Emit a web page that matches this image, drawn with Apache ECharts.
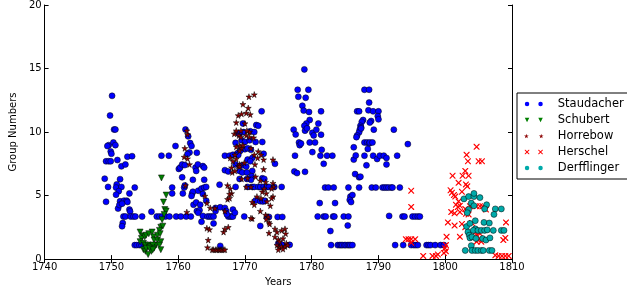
<!DOCTYPE html>
<html><head><meta charset="utf-8">
<script src="https://cdn.jsdelivr.net/npm/echarts@6/dist/echarts.min.js"></script>
<style>html,body{margin:0;padding:0;background:#fff}#c{width:627px;height:292px}</style>
</head><body><div id="c"></div>
<script>
const xTicks = [1740, 1810, 10];
const yTicks = [0, 20, 5];
const seriesNames = ['Staudacher', 'Schubert', 'Horrebow', 'Herschel', 'Derfflinger'];

const staudacher = [
[1750.1,12.85],[1749.8,11.3],[1750.4,10.2],[1750.6,10.2],
[1749.6,8.97],[1749.4,8.9],[1750.3,9.18],[1750.6,8.97],[1749.9,8.47],[1750.0,8.29],[1749.2,7.7],[1749.6,7.7],[1749.9,7.7],[1750.9,7.8],[1751.5,7.3],[1752.1,7.45],[1752.4,8.06],[1753.1,8.1],
[1749.0,6.33],[1751.3,6.29],[1749.5,5.68],[1750.8,5.88],[1750.7,5.63],[1751.5,5.68],[1751.1,5.35],[1750.7,5.07],[1752.7,5.17],[1753.5,5.63],[1749.2,4.51],[1751.3,4.55],[1751.9,4.6],[1752.3,4.6],[1752.4,4.5],[1751.0,3.98],[1751.2,4.26],[1751.6,4.36],[1752.7,3.9],[1752.8,3.75],
[1751.8,3.35],[1752.1,3.35],[1752.9,3.35],[1753.3,3.35],[1753.6,3.35],[1754.6,3.35],[1756.8,3.35],[1757.2,3.35],[1757.6,3.35],[1758.1,3.35],[1758.7,3.35],[1759.7,3.35],[1760.4,3.35],[1761.2,3.35],[1761.9,3.35],
[1756.0,3.73],[1751.7,2.84],[1751.6,2.59],
[1753.5,1.1],[1753.8,1.1],[1754.2,1.1],[1754.5,1.1],[1755.0,1.1],[1755.4,1.1],[1755.9,1.1],[1756.3,1.1],
[1757.5,8.14],[1758.6,8.14],[1759.1,5.63],[1759.1,5.17],[1759.6,8.9],[1760.1,7.1],[1760.3,7.2],[1760.6,7.45],[1760.6,6.44],[1760.7,5.17],[1760.9,5.63],[1761.1,10.2],[1761.5,9.66],[1761.8,9.13],[1762.0,8.9],[1761.7,8.39],[1761.4,8.27],[1762.8,8.37],[1762.6,7.2],[1762.7,6.94],[1762.95,7.45],[1762.2,6.24],[1762.1,5.17],[1762.2,5.3],[1762.0,4.97],[1763.0,5.38],[1762.3,4.28],[1762.8,3.78],
[1763.7,7.32],[1763.9,7.2],[1761.0,7.4],[1763.9,6.24],[1761.0,5.8],[1763.5,5.55],[1763.9,5.63],[1764.2,5.68],[1766.2,5.86],[1763.7,5.12],[1762.7,4.46],[1763.3,4.28],[1764.2,4.6],[1763.2,3.85],[1763.0,3.65],[1763.7,3.4],
[1764.4,3.35],[1764.7,3.35],[1765.0,3.35],[1765.3,3.35],[1767.5,3.35],[1767.8,3.35],[1768.0,3.35],[1768.2,3.35],[1769.9,3.35],
[1763.5,2.94],[1765.3,2.81],[1765.6,4.03],[1765.6,3.78],[1766.3,4.08],[1767.0,4.03],[1767.2,3.78],[1767.3,3.52],[1768.2,3.9],[1768.5,3.65],[1766.3,1.04],[1767.0,7.0],[1767.5,6.9],
[1767.0,8.14],[1767.7,8.14],[1768.2,8.21],[1768.9,8.34],
[1772.5,11.63],[1769.7,10.67],[1771.7,10.55],[1772.0,10.5],[1769.0,9.9],[1769.2,9.85],[1769.8,10.0],[1770.8,10.06],[1771.4,10.0],[1768.6,9.15],[1769.5,9.35],[1770.0,9.22],[1770.7,9.35],[1771.6,9.22],[1772.6,9.22],[1770.0,8.65],[1770.4,8.72],[1770.9,8.6],[1769.3,8.52],[1769.0,8.2],[1772.8,8.29],[1770.4,7.83],[1771.1,7.96],[1770.8,7.7],[1768.6,7.45],[1774.5,7.5],[1769.6,7.38],[1770.2,7.28],[1771.1,6.94],[1769.2,6.94],[1769.6,6.82],[1770.3,6.82],[1771.0,6.52],[1769.2,6.31],[1770.3,6.31],[1770.9,6.24],[1772.6,6.36],[1772.9,6.31],
[1768.6,5.68],[1770.4,5.68],[1771.1,5.68],[1771.4,5.68],[1772.0,5.68],[1772.3,5.68],[1772.8,5.68],[1773.3,5.68],[1773.6,5.68],[1774.4,5.68],[1775.5,5.68],
[1771.6,4.61],[1772.3,4.56],[1772.7,4.54],[1773.0,4.59],
[1773.3,3.32],[1773.6,3.32],[1774.9,3.32],[1775.6,3.32],
[1772.3,2.61],[1775.0,1.24],[1775.6,1.12],[1776.7,1.12],
[1778.9,14.93],[1777.9,13.33],[1779.5,13.33],[1778.0,12.78],[1779.1,12.7],[1778.6,12.07],[1778.8,11.69],[1779.6,11.58],[1781.4,11.63],[1779.7,10.95],[1779.2,10.67],[1778.9,10.49],[1781.0,10.67],[1777.3,10.19],[1777.6,9.81],[1779.0,10.11],[1779.3,10.29],[1780.1,9.94],[1780.3,9.73],[1780.7,10.19],[1781.4,9.79],[1778.1,9.18],[1778.2,8.97],[1778.4,9.1],[1779.7,9.18],[1780.5,9.18],[1780.1,8.42],[1781.5,8.6],[1777.5,8.14],[1781.3,8.14],[1782.3,8.14],[1783.1,8.14],[1781.8,7.5],[1777.4,6.9],[1777.8,6.77],[1779.0,6.87],
[1782.0,5.63],[1782.5,5.63],[1783.3,5.63],[1785.5,5.63],[1787.1,5.63],[1789.0,5.63],
[1781.2,4.41],[1783.5,4.41],[1785.8,4.92],[1786.1,5.04],[1785.7,4.66],[1785.9,4.49],
[1780.9,3.35],[1781.8,3.35],[1782.1,3.35],[1783.2,3.35],[1783.4,3.35],[1784.8,3.35],[1785.5,3.35],
[1785.4,2.64],[1782.8,2.21],
[1782.9,1.1],[1783.9,1.1],[1784.2,1.1],[1784.4,1.1],[1784.6,1.1],[1784.9,1.1],[1785.1,1.1],[1785.4,1.1],[1785.6,1.1],[1785.8,1.1],[1786.1,1.1],
[1787.9,13.33],[1788.6,13.33],[1788.6,12.32],[1786.8,11.63],[1787.1,11.63],[1788.5,11.71],[1789.2,11.63],[1787.7,10.95],[1787.5,10.8],[1787.3,10.49],[1787.4,10.37],[1787.2,10.19],[1787.1,9.98],[1786.8,9.73],[1786.7,9.6],[1788.9,10.87],[1788.7,10.75],[1786.3,8.8],[1787.9,9.18],[1788.3,9.18],[1788.6,9.1],[1788.4,8.67],[1786.3,7.83],[1786.6,8.16],[1787.9,8.14],[1789.2,8.14],[1788.2,7.38],[1786.5,6.69],[1787.1,6.44],
[1790.0,11.63],[1789.9,11.25],[1790.0,11.0],[1787.4,10.29],[1789.3,10.19],[1792.3,10.19],[1788.7,9.18],[1789.1,9.18],[1794.4,9.05],[1789.8,7.88],[1790.2,8.14],[1790.8,8.14],[1791.2,7.96],[1792.8,8.14],[1791.2,7.45],[1787.3,6.49],
[1789.6,5.63],[1790.6,5.63],[1790.9,5.63],[1791.2,5.63],[1791.5,5.63],[1791.9,5.63],[1792.1,5.63],[1793.2,5.63],
[1791.6,3.4],[1793.6,3.35],[1793.9,3.35],[1795.1,3.35],[1795.5,3.35],[1795.9,3.35],[1796.2,3.35],
[1792.5,1.1],[1793.7,1.1],[1794.9,1.1],[1795.3,1.1],[1795.6,1.1],[1795.9,1.1],[1797.2,1.1],[1797.5,1.1],[1797.8,1.1],[1798.5,1.1],[1799.3,1.1],[1799.8,1.1]
];

const schubert = [
[1757.5,6.39],[1758.2,5.04],[1757.8,4.49],[1758.0,3.9],[1758.2,3.78],[1757.9,3.52],[1757.6,3.09],[1757.4,2.51],[1757.7,2.59],
[1754.3,2.13],[1754.7,1.83],[1754.5,1.62],[1755.0,1.75],[1755.2,1.88],[1755.6,2.0],[1756.1,2.13],[1756.3,1.75],[1756.9,1.88],[1757.2,2.26],[1757.3,2.0],
[1756.4,1.5],[1756.9,1.5],[1757.4,1.37],[1756.7,1.1],[1757.2,1.1],
[1754.3,1.37],[1754.8,1.24],[1755.1,1.1],[1755.5,1.1],[1755.8,0.99],[1756.2,1.1],
[1754.8,0.74],[1755.1,0.61],[1755.5,0.36],[1756.0,0.61],[1756.4,0.86],[1757.4,0.74],[1755.2,0.86],[1755.7,0.86],[1756.2,0.74]
];

const horrebow = [
[1761.4,9.81],[1761.3,10.11],[1761.0,8.72],[1760.9,8.04],[1761.4,7.91],[1761.7,7.45],[1761.1,5.8],[1761.3,3.7],
[1764.0,4.97],[1764.3,4.41],[1764.3,2.43],[1764.7,2.33],[1764.5,1.5],[1764.4,0.91],
[1765.1,0.74],[1765.3,0.74],[1765.6,0.74],[1765.8,0.74],[1766.1,0.74],[1766.3,0.74],[1766.5,0.74],[1766.8,0.74],[1767.0,0.74],
[1765.5,4.0],[1764.8,4.03],[1766.8,2.13],[1767.0,2.38],[1767.5,2.51],[1767.0,3.78],[1767.4,4.71],[1767.7,4.79],
[1767.4,5.8],[1767.8,5.55],[1768.0,5.17],[1767.7,5.12],[1768.0,7.2],[1768.1,6.82],[1768.5,6.94],[1767.8,7.96],[1768.2,7.7],
[1768.4,9.86],[1768.7,10.11],[1769.1,9.73],[1770.7,10.0],[1770.9,8.72],[1769.2,8.92],[1769.5,8.72],[1769.0,7.32],[1769.2,7.45],[1771.1,3.19],
[1770.6,12.78],[1771.4,12.95],[1769.7,12.19],[1770.5,11.89],[1770.2,11.5],[1770.8,11.38],[1769.0,11.31],[1769.5,11.43],
[1768.7,10.75],[1770.0,10.67],[1770.3,10.11],[1769.4,10.11],[1769.4,9.6],[1770.2,9.73],[1770.7,9.6],[1771.3,9.56],
[1768.7,8.84],[1769.2,8.52],[1769.7,8.97],[1772.0,8.47],[1772.4,8.21],[1772.8,7.83],[1771.4,8.21],[1768.5,8.21],[1768.7,7.88],[1771.9,7.96],[1774.2,7.83],
[1769.2,7.28],[1769.9,7.58],[1771.5,7.45],[1772.8,7.07],[1770.4,6.36],[1771.6,6.49],[1769.5,6.31],[1772.3,6.18],[1773.1,6.06],
[1774.2,5.98],[1774.3,5.68],[1774.0,5.55],[1770.2,5.68],[1770.9,5.68],[1772.6,5.3],[1772.9,5.55],[1773.2,5.17],
[1771.8,4.92],[1772.4,4.79],[1774.2,4.92],[1774.0,4.79],[1771.1,4.49],[1771.4,4.28],[1773.3,4.54],[1773.8,4.2],
[1772.3,3.78],[1773.1,3.47],[1773.5,3.32],[1773.2,3.14],[1770.9,3.22],[1773.6,2.89],[1773.7,2.76],[1773.6,2.05],
[1774.5,2.38],[1774.8,2.13],[1775.5,2.26],[1776.0,2.38],[1776.1,2.0],
[1774.5,1.75],[1775.0,1.54],[1775.2,1.37],[1775.7,1.62],[1776.2,1.24],
[1774.8,1.1],[1775.1,0.94],[1775.5,0.99],[1776.0,0.99],[1775.0,0.74],[1775.7,0.79],[1776.4,1.1]
];

const herschel = [
[1794.9,5.38],[1794.9,4.11],[1794.1,1.57],[1794.5,1.57],[1794.9,1.57],[1795.5,1.57],[1794.9,1.29],
[1796.7,0.25],[1798.1,0.25],[1798.6,0.25],[1798.9,0.36],
[1804.7,8.84],[1803.2,8.21],[1803.4,7.7],[1805.0,7.7],[1805.5,7.7],[1803.0,6.94],[1802.6,6.56],[1803.5,6.56],[1801.1,6.56],[1802.0,6.0],
[1803.1,5.88],[1803.3,5.73],[1800.8,5.42],[1801.0,5.22],[1801.3,5.04],[1801.5,4.92],[1802.5,5.3],
[1802.0,4.54],[1801.6,4.28],[1801.9,4.11],[1802.2,4.2],[1803.7,4.16],[1804.7,4.16],[1805.2,4.16],[1805.6,4.16],[1803.0,3.95],
[1800.9,3.7],[1801.4,3.6],[1802.2,3.7],[1803.1,3.57],[1803.5,3.52],[1806.1,3.9],
[1800.4,2.89],[1801.4,2.64],[1802.5,2.76],[1804.0,2.84],[1809.1,2.89],[1803.0,2.51],
[1804.5,2.13],[1805.2,2.0],[1804.7,1.88],[1800.2,1.75],[1802.2,1.75],[1804.9,1.5],[1805.4,1.37],[1804.7,1.37],[1809.0,1.67],[1808.7,1.5],
[1800.1,1.1],[1799.97,0.86],[1800.1,0.61],[1799.8,0.48],
[1807.5,0.3],[1808.0,0.25],[1808.5,0.25],[1809.0,0.25],[1809.5,0.25]
];

const derfflinger = [
[1802.8,4.74],[1803.5,4.92],[1804.3,4.92],[1804.3,5.17],[1805.2,4.84],
[1803.5,3.9],[1803.3,3.65],[1803.9,4.41],[1804.3,4.2],
[1806.2,4.28],[1805.9,3.95],[1807.5,3.95],[1808.4,3.95],[1807.3,3.52],
[1803.2,2.56],[1803.7,2.81],[1804.5,3.02],[1804.5,2.38],[1805.8,2.89],[1806.6,2.84],
[1803.4,2.13],[1803.6,1.88],[1804.2,2.26],[1804.9,2.26],[1805.4,2.26],[1805.9,2.26],[1806.3,2.3],[1807.2,2.26],[1808.4,2.26],[1808.8,2.26],
[1803.7,1.67],[1804.0,1.75],[1804.6,1.62],[1805.6,1.62],[1806.1,1.5],[1806.7,1.67],
[1803.9,1.06],
[1803.0,0.68],[1804.0,0.68],[1804.5,0.68],[1804.9,0.68],[1805.4,0.68],[1805.7,0.68],[1806.6,0.68],[1807.0,0.68]
];

const STAR = 'path://M50,0 L61,35 L98,35 L68,57 L79,91 L50,70 L21,91 L32,57 L2,35 L39,35 Z';
const XMARK = 'path://M0,0 L1.4,0 L5,3.6 L8.6,0 L10,0 L10,1.4 L6.4,5 L10,8.6 L10,10 L8.6,10 L5,6.4 L1.4,10 L0,10 L0,8.6 L3.6,5 L0,1.4 Z';
const ICON = {
  circle: 'path://M0,2.5 A2.5,2.5 0 1,1 5,2.5 A2.5,2.5 0 1,1 0,2.5 Z M15,2.5 A2.5,2.5 0 1,1 20,2.5 A2.5,2.5 0 1,1 15,2.5 Z',
  tri: 'path://M0,0 L5,0 L2.5,5 Z M15,0 L20,0 L17.5,5 Z',
  star: 'path://M2.5,0 L3.05,1.75 L4.9,1.75 L3.4,2.85 L3.95,4.55 L2.5,3.5 L1.05,4.55 L1.6,2.85 L0.1,1.75 L1.95,1.75 Z M17.5,0 L18.05,1.75 L19.9,1.75 L18.4,2.85 L18.95,4.55 L17.5,3.5 L16.05,4.55 L16.6,2.85 L15.1,1.75 L16.95,1.75 Z',
  x: 'path://M0,0 L0.7,0 L2.5,1.8 L4.3,0 L5,0 L5,0.7 L3.2,2.5 L5,4.3 L5,5 L4.3,5 L2.5,3.2 L0.7,5 L0,5 L0,4.3 L1.8,2.5 L0,0.7 Z M15,0 L15.7,0 L17.5,1.8 L19.3,0 L20,0 L20,0.7 L18.2,2.5 L20,4.3 L20,5 L19.3,5 L17.5,3.2 L15.7,5 L15,5 L15,4.3 L16.8,2.5 L15,0.7 Z'
};
const legendColors = ['#0000ff', '#007f00', '#8b0000', '#ff0000', '#00aaaa'];
const legendIcons = [ICON.circle, ICON.tri, ICON.star, ICON.x, ICON.circle];

const chart = echarts.init(document.getElementById('c'), null, {renderer: 'canvas'});
const F = 'DejaVu Sans';
const axisCommon = {
  axisLine: {lineStyle: {color: '#000', width: 1}},
  axisTick: {inside: true, length: 4, lineStyle: {color: '#000'}},
  splitLine: {show: false}
};
function mk(name, data, symbol, color, size, border, extra) {
  return Object.assign({
    name, type: 'scatter', data, symbol, symbolSize: size,
    itemStyle: {color, borderColor: border ? '#000' : color, borderWidth: border ? 0.5 : 0, opacity: 1},
    emphasis: {disabled: true}, animation: false
  }, extra || {});
}
const fmt = v => String(v);
chart.setOption({
  animation: false,
  grid: {left: 28, right: 115, top: 5, bottom: 24},
  xAxis: [
    Object.assign({type: 'value', min: xTicks[0], max: xTicks[1], interval: xTicks[2], position: 'bottom',
      name: 'Years', nameLocation: 'middle', nameGap: 15, nameTextStyle: {fontFamily: F, fontSize: 10, color: '#000'},
      axisLabel: {fontFamily: F, fontSize: 10, color: '#000', margin: 3, formatter: fmt}}, axisCommon),
    Object.assign({type: 'value', min: xTicks[0], max: xTicks[1], interval: xTicks[2], position: 'top',
      axisLabel: {show: false}}, axisCommon)
  ],
  yAxis: [
    Object.assign({type: 'value', min: yTicks[0], max: yTicks[1], interval: yTicks[2], position: 'left',
      name: 'Group Numbers', nameLocation: 'middle', nameGap: 26, nameTextStyle: {fontFamily: F, fontSize: 10, color: '#000'},
      axisLabel: {fontFamily: F, fontSize: 10, color: '#000', margin: 3, formatter: fmt}}, axisCommon),
    Object.assign({type: 'value', min: yTicks[0], max: yTicks[1], interval: yTicks[2], position: 'right',
      axisLabel: {show: false}}, axisCommon)
  ],
  legend: {
    orient: 'vertical', left: 517, top: 93, padding: [5, 5, 5, 7],
    borderColor: '#000', borderWidth: 1, backgroundColor: '#fff',
    itemWidth: 20, itemHeight: 4.5, itemGap: 4,
    textStyle: {fontFamily: F, fontSize: 11.5, color: '#000', padding: [0, 0, 0, 9]},
    data: seriesNames.map((n, i) => ({
      name: n, icon: legendIcons[i],
      itemStyle: {color: legendColors[i], borderWidth: 0}
    }))
  },
  series: [
    mk(seriesNames[0], staudacher, 'circle', legendColors[0], 6, true),
    mk(seriesNames[1], schubert, 'triangle', legendColors[1], 6, true, {symbolRotate: 180}),
    mk(seriesNames[2], horrebow, STAR, legendColors[2], 6, true),
    mk(seriesNames[3], herschel, XMARK, legendColors[3], 6, false),
    mk(seriesNames[4], derfflinger, 'circle', legendColors[4], 6, true)
  ]
});
</script></body></html>
